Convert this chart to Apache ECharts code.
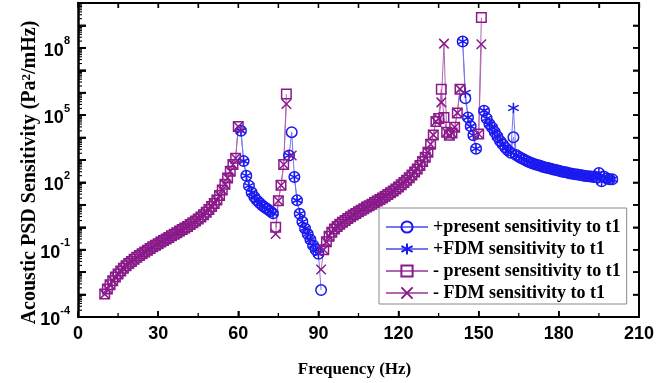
<!DOCTYPE html>
<html><head><meta charset="utf-8">
<script src="https://cdn.jsdelivr.net/npm/echarts@6/dist/echarts.min.js"></script>
<style>html,body{margin:0;padding:0;background:#fff}#c{width:657px;height:383px}</style>
</head><body><div id="c"></div>
<script>
const _ = null;
// Frequency grid (Hz)
const freqHz = [
 10,11,12,13,14,15,16,17,18,19,
 20,21,22,23,24,25,26,27,28,29,
 30,31,32,33,34,35,36,37,38,39,
 40,41,42,43,44,45,46,47,48,49,
 50,51,52,53,54,55,56,57,58,59,
 60,61,62,63,64,65,66,67,68,69,
 70,71,72,73,74,75,76,77,78,79,
 80,81,82,83,84,85,86,87,88,89,
 90,91,92,93,94,95,96,97,98,99,
 100,101,102,103,104,105,106,107,108,109,
 110,111,112,113,114,115,116,117,118,119,
 120,121,122,123,124,125,126,127,128,129,
 130,131,132,133,134,135,136,137,138,139,
 140,141,142,143,144,145,146,147,148,149,
 150,151,152,153,154,155,156,157,158,159,
 160,161,162,163,164,165,166,167,168,169,
 170,171,172,173,174,175,176,177,178,179,
 180,181,182,183,184,185,186,187,188,189,
 190,191,192,193,194,195,196,197,198,199,
 200];
// log10 of |sensitivity| (Pa^2/mHz); _ = no point
const plusPresentExp = [
 _,_,_,_,_,_,_,_,_,_,
 _,_,_,_,_,_,_,_,_,_,
 _,_,_,_,_,_,_,_,_,_,
 _,_,_,_,_,_,_,_,_,_,
 _,_,_,_,_,_,_,_,_,_,
 _,4.30,2.95,2.30,1.85,1.55,1.35,1.20,1.08,0.97,
 0.88,0.80,0.72,0.62,_,_,_,_,_,3.20,
 4.24,2.24,1.20,0.60,0.25,-0.05,-0.30,-0.55,-0.80,-1.00,
 -1.18,-2.80,_,_,_,_,_,_,_,_,
 _,_,_,_,_,_,_,_,_,_,
 _,_,_,_,_,_,_,_,_,_,
 _,_,_,_,_,_,_,_,_,_,
 _,_,_,_,_,_,_,_,_,_,
 _,_,_,_,8.28,5.75,4.90,4.50,4.10,3.50,
 _,_,5.20,4.85,4.60,4.45,4.25,4.05,3.85,3.70,
 3.55,3.42,3.32,4.01,3.22,3.15,3.08,3.02,2.96,2.90,
 2.85,2.81,2.78,2.74,2.70,2.67,2.64,2.61,2.58,2.55,
 2.52,2.49,2.46,2.44,2.41,2.39,2.37,2.35,2.33,2.31,
 2.29,2.27,2.26,2.24,2.23,2.42,2.05,2.25,2.18,2.14,
 2.14];
const plusFdmExp = [
 _,_,_,_,_,_,_,_,_,_,
 _,_,_,_,_,_,_,_,_,_,
 _,_,_,_,_,_,_,_,_,_,
 _,_,_,_,_,_,_,_,_,_,
 _,_,_,_,_,_,_,_,_,_,
 _,4.30,2.95,2.30,1.85,1.55,1.35,1.20,1.08,0.97,
 0.88,0.80,0.72,0.62,_,_,_,_,_,3.20,
 _,2.24,1.20,0.60,0.25,-0.05,-0.30,-0.55,-0.80,-1.00,
 -1.18,_,_,_,_,_,_,_,_,_,
 _,_,_,_,_,_,_,_,_,_,
 _,_,_,_,_,_,_,_,_,_,
 _,_,_,_,_,_,_,_,_,_,
 _,_,_,_,_,_,_,_,_,_,
 _,_,_,_,8.28,6.00,4.90,4.50,4.10,3.50,
 _,_,5.20,4.85,4.60,4.45,4.25,4.05,3.85,3.70,
 3.55,3.42,3.32,5.32,3.22,3.15,3.08,3.02,2.96,2.90,
 2.85,2.81,2.78,2.74,2.70,2.67,2.64,2.61,2.58,2.55,
 2.52,2.49,2.46,2.44,2.41,2.39,2.37,2.35,2.33,2.31,
 2.29,2.27,2.26,2.24,2.23,2.42,2.05,2.25,2.18,2.14,
 2.14];
const minusPresentExp = [
 -2.98,-2.75,-2.56,-2.38,-2.22,-2.08,-1.95,-1.83,-1.71,-1.61,
 -1.52,-1.43,-1.34,-1.26,-1.18,-1.10,-1.02,-0.95,-0.87,-0.80,
 -0.73,-0.66,-0.59,-0.52,-0.45,-0.38,-0.31,-0.24,-0.17,-0.10,
 -0.03,0.04,0.12,0.20,0.28,0.37,0.46,0.56,0.67,0.79,
 0.93,1.06,1.22,1.42,1.66,1.92,2.20,2.50,2.80,3.08,
 4.49,_,_,_,_,_,_,_,_,_,
 _,_,_,_,0.00,1.18,1.87,2.80,5.94,_,
 _,_,_,_,_,_,_,_,_,_,
 _,_,-1.00,-0.65,-0.40,-0.22,-0.08,0.03,0.13,0.22,
 0.30,0.39,0.47,0.55,0.62,0.69,0.76,0.83,0.90,0.96,
 1.03,1.10,1.17,1.24,1.31,1.38,1.46,1.54,1.62,1.71,
 1.80,1.90,2.00,2.10,2.21,2.33,2.46,2.60,2.76,2.93,
 3.12,3.35,3.70,4.12,4.72,4.85,6.16,4.90,4.24,4.10,
 4.20,4.46,5.10,6.16,_,_,_,_,_,_,
 4.16,9.35,_,_,_,_,_,_,_,_,
 _,_,_,_,_,_,_,_,_,_,
 _,_,_,_,_,_,_,_,_,_,
 _,_,_,_,_,_,_,_,_,_,
 _,_,_,_,_,_,_,_,_,_,
 _];
const minusFdmExp = [
 -2.98,-2.75,-2.56,-2.38,-2.22,-2.08,-1.95,-1.83,-1.71,-1.61,
 -1.52,-1.43,-1.34,-1.26,-1.18,-1.10,-1.02,-0.95,-0.87,-0.80,
 -0.73,-0.66,-0.59,-0.52,-0.45,-0.38,-0.31,-0.24,-0.17,-0.10,
 -0.03,0.04,0.12,0.20,0.28,0.37,0.46,0.56,0.67,0.79,
 0.93,1.06,1.22,1.42,1.66,1.92,2.20,2.50,2.80,3.08,
 4.49,_,_,_,_,_,_,_,_,_,
 _,_,_,_,-0.30,1.18,1.87,2.80,5.50,_,
 3.20,_,_,_,_,_,_,_,_,_,
 _,-1.88,-1.00,-0.65,-0.40,-0.22,-0.08,0.03,0.13,0.22,
 0.30,0.39,0.47,0.55,0.62,0.69,0.76,0.83,0.90,0.96,
 1.03,1.10,1.17,1.24,1.31,1.38,1.46,1.54,1.62,1.71,
 1.80,1.90,2.00,2.10,2.21,2.33,2.46,2.60,2.76,2.93,
 3.12,3.35,3.70,4.12,4.72,4.85,5.57,8.19,4.24,4.10,
 4.20,4.46,5.10,6.16,_,_,_,_,_,_,
 4.16,8.16,_,_,_,_,_,_,_,_,
 _,_,_,_,_,_,_,_,_,_,
 _,_,_,_,_,_,_,_,_,_,
 _,_,_,_,_,_,_,_,_,_,
 _,_,_,_,_,_,_,_,_,_,
 _];
const seriesNames = ['+present sensitivity to t1','+FDM sensitivity to t1','- present sensitivity to t1','- FDM sensitivity to t1'];
const xTicks = [0,30,60,90,120,150,180,210];
const yLabelExps = [-4,-1,2,5,8];
const xTitle = 'Frequency (Hz)';
const yTitle = 'Acoustic PSD Sensitivity (Pa{sup|2}/mHz)';

const BLUE = '#1a1af0', BLUE_L = '#7676f2', PURP = '#8a1a8a', PURP_L = '#b266b2';
const STAR = 'path://M50,0L50,100M7,25L93,75M7,75L93,25';
const CROSS = 'path://M0,0L100,100M0,100L100,0';
function toData(exps){ return freqHz.map((f,i)=>[f, exps[i]==null ? '-' : Math.pow(10, exps[i])]); }
function mk(name, exps, symbol, size, col, lcol){
  return {name, type:'line', data:toData(exps), symbol, symbolSize:size, showAllSymbol:true,
    connectNulls:false, itemStyle:{color:'rgba(0,0,0,0)', borderColor:col, borderWidth:1.5},
    lineStyle:{color:lcol, width:1}, emphasis:{disabled:true}, z:2};
}
// axis tick marks (frame ticks pointing inward), placed through the axes' own scales
// item: [xValue, yValue, side(0 bottom,1 top,2 left,3 right), length, width]
const tickMarks = [];
for (let v=0; v<=210; v+=30) tickMarks.push([v,1,0,6,1.5]);
for (let v=15; v<210; v+=30) tickMarks.push([v,1,0,4,1.3]);
for (let v=0; v<=210; v+=15) tickMarks.push([v,1,1,5,1.3]);
for (let n=-4; n<=10; n++){ tickMarks.push([0,Math.pow(10,n),2,8,1.8]); tickMarks.push([0,Math.pow(10,n),3,6,1.5]); }
for (let n=-4; n<10; n++) for (let k=2; k<10; k++) tickMarks.push([0,k*Math.pow(10,n),2,4,1.1]);
function renderTick(params, api){
  const cs = params.coordSys, side = api.value(2), len = api.value(3), w = api.value(4);
  let x1,y1,x2,y2;
  if (side < 2){ const px = api.coord([api.value(0), 1])[0]; x1 = x2 = px;
    if (side === 0){ y1 = cs.y + cs.height; y2 = y1 - len; } else { y1 = cs.y; y2 = y1 + len; } }
  else { const py = api.coord([0, api.value(1)])[1]; y1 = y2 = py;
    if (side === 2){ x1 = cs.x; x2 = x1 + len; } else { x1 = cs.x + cs.width; x2 = x1 - len; } }
  return {type:'line', shape:{x1,y1,x2,y2}, style:{stroke:'#000', lineWidth:w}, silent:true};
}
const serif = 'Liberation Serif', sans = 'Liberation Sans';
const logBase = {type:'log', logBase:10, min:1e-4, max:1e10, interval:1, splitLine:{show:false}};
const hidden = {axisLine:{show:false, onZero:false}, axisTick:{show:false}, axisLabel:{show:false}, splitLine:{show:false}};
const chart = echarts.init(document.getElementById('c'));
chart.setOption({
  animation:false, backgroundColor:'#fff',
  grid:{left:78, right:17, top:3, bottom:66},
  legend:{orient:'vertical', left:379, top:208, padding:[10,6,2,6], itemGap:4, itemWidth:42, itemHeight:14,
    backgroundColor:'#fff', borderColor:'#8a8a8a', borderWidth:1,
    textStyle:{fontFamily:serif, fontWeight:'bold', fontSize:18, color:'#000', lineHeight:18},
    data:seriesNames},
  xAxis:[{type:'value', min:xTicks[0], max:xTicks[xTicks.length-1], interval:30,
    axisLine:{show:true, onZero:false, lineStyle:{color:'#000', width:2}},
    axisTick:{show:true, inside:true, length:6, lineStyle:{color:'#000', width:1.5}},
    splitLine:{show:false},
    axisLabel:{fontFamily:sans, fontWeight:'bold', fontSize:18, color:'#000'}},
   {type:'value', position:'top', min:0, max:210, interval:15,
    axisLine:{show:true, onZero:false, lineStyle:{color:'#000', width:2}},
    axisTick:{show:true, inside:true, length:5, lineStyle:{color:'#000', width:1.3}},
    axisLabel:{show:false}, splitLine:{show:false}},
   Object.assign({type:'value', position:'bottom', min:0, max:210,
    name:xTitle, nameLocation:'middle', nameGap:44,
    nameTextStyle:{fontFamily:serif, fontWeight:'bold', fontSize:17, color:'#000', padding:[0,8,0,0]}}, hidden)],
  yAxis:[Object.assign({}, logBase, {
    axisLine:{show:true, onZero:false, lineStyle:{color:'#000', width:2.5}},
    axisTick:{show:true, inside:true, length:8, lineStyle:{color:'#000', width:1.8}},
    axisLabel:{formatter:function(v){ const e=Math.round(Math.log10(v)); return yLabelExps.indexOf(e)>=0 ? '{b|10}{s|'+e+'}' : ''; },
      rich:{b:{fontFamily:sans, fontWeight:'bold', fontSize:18, color:'#000', lineHeight:24, verticalAlign:'bottom'},
            s:{fontFamily:sans, fontWeight:'bold', fontSize:11, color:'#000', lineHeight:12, verticalAlign:'top'}}}}),
   Object.assign({}, logBase, {position:'right',
    axisLine:{show:true, onZero:false, lineStyle:{color:'#000', width:2}},
    axisTick:{show:true, inside:true, length:6, lineStyle:{color:'#000', width:1.5}},
    axisLabel:{show:false}}),
   Object.assign({}, logBase, hidden, {position:'left',
    name:yTitle, nameLocation:'middle', nameRotate:90, nameGap:38,
    nameTextStyle:{fontFamily:serif, fontWeight:'bold', fontSize:20, color:'#000', padding:[0,25,0,0],
      rich:{sup:{fontFamily:serif, fontWeight:'bold', fontSize:13, color:'#000', verticalAlign:'top', lineHeight:13}}}})],
  series:[
    mk(seriesNames[0], plusPresentExp, 'circle', 10.5, BLUE, BLUE_L),
    mk(seriesNames[1], plusFdmExp, STAR, 10.5, BLUE, BLUE_L),
    mk(seriesNames[2], minusPresentExp, 'rect', 9.5, PURP, PURP_L),
    mk(seriesNames[3], minusFdmExp, CROSS, 9.5, PURP, PURP_L),
    {type:'custom', renderItem:renderTick, data:tickMarks, xAxisIndex:0, yAxisIndex:0,
     encode:{x:0, y:1}, clip:false, silent:true, z:5}
  ]
});
</script></body></html>
